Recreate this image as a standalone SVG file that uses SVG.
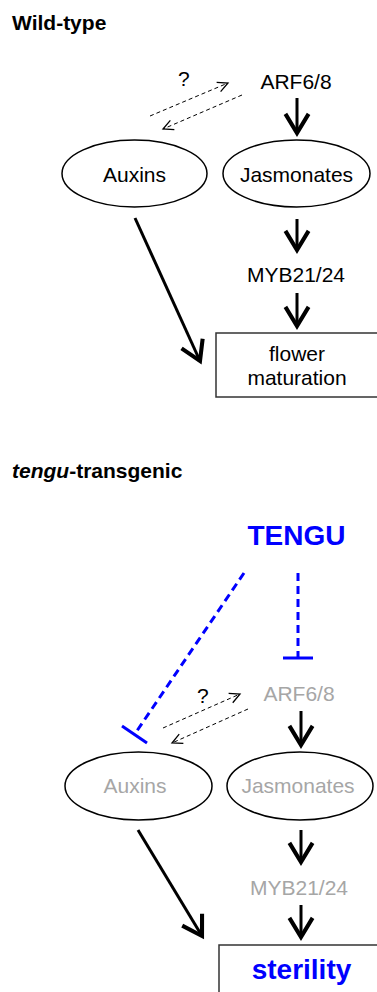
<svg xmlns="http://www.w3.org/2000/svg" width="377" height="992" viewBox="0 0 377 992">
<defs>
<style>
text{font-family:"Liberation Sans",Arial,sans-serif;font-size:21px;fill:#000}
.c{text-anchor:middle}
.h{font-weight:bold}
.g{fill:#a6a6a6}
.b{fill:#0000ff;font-weight:bold;font-size:28px}
.node{fill:#fff;stroke:#000;stroke-width:1.5}
.box{fill:#fff;stroke:#333;stroke-width:1.5}
.solid{stroke:#000;stroke-width:3;fill:none;marker-end:url(#big)}
.dash{stroke:#000;stroke-width:1;stroke-dasharray:4 3;fill:none;marker-end:url(#small)}
.inh{stroke:#0000ff;stroke-width:3;stroke-dasharray:8 5;fill:none}
.bar{stroke:#0000ff;stroke-width:3;fill:none}
</style>
<marker id="big" markerUnits="userSpaceOnUse" orient="auto" refX="0" refY="0" markerWidth="30" markerHeight="30" viewBox="-16 -11 20 22" overflow="visible">
<path d="M-14,-8.5 L0,0 L-14,8.5" fill="none" stroke="#000" stroke-width="3"/>
</marker>
<marker id="small" markerUnits="userSpaceOnUse" orient="auto" refX="0" refY="0" markerWidth="14" markerHeight="14" viewBox="-9 -5 11 10" overflow="visible">
<path d="M-8,-4 L0,0 L-8,4" fill="none" stroke="#000" stroke-width="1"/>
</marker>
</defs>
<text x="12" y="30" class="h">Wild-type</text>
<text x="12" y="478" class="h"><tspan font-style="italic">tengu</tspan>-transgenic</text>
<g id="connectors">
<line class="solid" x1="297" y1="98" x2="297" y2="133"/>
<line class="solid" x1="297" y1="219" x2="297" y2="250"/>
<line class="solid" x1="297" y1="293" x2="297" y2="326"/>
<line class="solid" x1="135" y1="218" x2="200" y2="361"/>
<line class="dash" x1="150" y1="116" x2="228" y2="83"/>
<line class="dash" x1="242" y1="95" x2="163" y2="129"/>
<line class="solid" x1="301" y1="711" x2="301" y2="745"/>
<line class="solid" x1="301" y1="830" x2="301" y2="862"/>
<line class="solid" x1="301" y1="905" x2="301" y2="937"/>
<line class="solid" x1="138" y1="830" x2="202" y2="936"/>
<line class="dash" x1="163" y1="728" x2="240" y2="694"/>
<line class="dash" x1="248" y1="709" x2="172" y2="743"/>
<line class="inh" x1="298" y1="573" x2="298" y2="658"/>
<line class="bar" x1="283" y1="658" x2="313" y2="658"/>
<line class="inh" x1="244" y1="573" x2="134.5" y2="734.5"/>
<line class="bar" x1="122" y1="726" x2="147" y2="743"/>
</g>
<g id="q1"><text x="178" y="86">?</text></g>
<g id="arf1"><text x="296" y="89" class="c">ARF6/8</text></g>
<g id="auxins1"><ellipse class="node" cx="134.5" cy="173.5" rx="72.5" ry="33.5"/><text x="134.5" y="182" class="c">Auxins</text></g>
<g id="jas1"><ellipse class="node" cx="296.5" cy="173.5" rx="73.5" ry="33.5"/><text x="296.5" y="182" class="c">Jasmonates</text></g>
<g id="myb1"><text x="296" y="282" class="c">MYB21/24</text></g>
<g id="flower"><rect class="box" x="216" y="333" width="175" height="64"/><text x="297" y="361" class="c">flower</text><text x="297" y="385" class="c">maturation</text></g>
<g id="tengu"><text x="296.5" y="545" class="c b">TENGU</text></g>
<g id="q2"><text x="197" y="703">?</text></g>
<g id="arf2"><text x="299" y="701" class="c g">ARF6/8</text></g>
<g id="auxins2"><ellipse class="node" cx="138.5" cy="786" rx="73.5" ry="34"/><text x="135" y="793" class="c g">Auxins</text></g>
<g id="jas2"><ellipse class="node" cx="300" cy="786" rx="73" ry="34"/><text x="298" y="793" class="c g">Jasmonates</text></g>
<g id="myb2"><text x="299" y="895" class="c g">MYB21/24</text></g>
<g id="sterility"><rect class="box" x="219" y="945" width="175" height="70"/><text x="301.5" y="979" class="c b">sterility</text></g>
</svg>
